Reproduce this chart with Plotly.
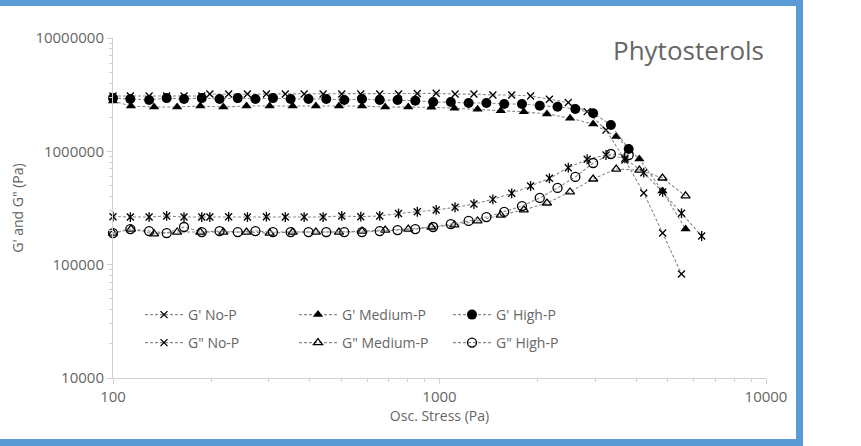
import plotly.graph_objects as go

# Oscillatory stress sweeps (Pa)
stress_high = [100, 113, 129, 146, 165, 187, 212, 241, 273, 309, 350, 397, 450, 511, 579,
               656, 744, 843, 956, 1083, 1228, 1392, 1578, 1789, 2028, 2299, 2606, 2955, 3349, 3797]
stress_med = [100, 113.5, 133.6, 157.2, 185.1, 217.8, 256.4, 301.8, 355.2, 418.1, 492.1, 579.2, 681.7,
              802.4, 944.4, 1111, 1308, 1540, 1812, 2133, 2511, 2955, 3478, 4094, 4818, 5671]
stress_nop_g1 = [100, 113, 129, 146, 165, 187, 198, 226, 258, 295, 337, 385, 440, 502, 574, 656,
                 749, 855, 977, 1116, 1275, 1457, 1664, 1901, 2171, 2480, 2833, 3236, 3697, 4223, 4824, 5510]
stress_nop_g2 = stress_nop_g1 + [6353]

# Storage modulus G' (Pa)
g1_nop = [3.08e6, 3.08e6, 3.08e6, 3.08e6, 3.08e6, 3.08e6,
          3.20e6, 3.20e6, 3.20e6, 3.20e6, 3.20e6, 3.20e6, 3.20e6, 3.20e6, 3.20e6, 3.20e6, 3.20e6,
          3.24e6, 3.25e6, 3.20e6, 3.20e6, 3.14e6, 3.14e6, 3.08e6, 2.88e6, 2.70e6, 2.24e6, 1.54e6,
          8.38e5, 4.29e5, 1.90e5, 8.27e4]
g1_med = [2.78e6, 2.51e6, 2.46e6, 2.46e6, 2.51e6, 2.46e6, 2.51e6, 2.51e6, 2.51e6, 2.51e6, 2.51e6,
          2.51e6, 2.46e6, 2.46e6, 2.45e6, 2.40e6, 2.35e6, 2.28e6, 2.23e6, 2.14e6, 1.96e6, 1.74e6,
          1.35e6, 8.56e5, 4.47e5, 2.06e5]
g1_high = [2.95e6, 2.90e6, 2.84e6, 2.95e6, 2.90e6, 2.95e6, 2.90e6, 2.95e6, 2.90e6, 2.95e6, 2.90e6,
           2.90e6, 2.90e6, 2.84e6, 2.90e6, 2.84e6, 2.84e6, 2.80e6, 2.72e6, 2.72e6, 2.67e6, 2.67e6,
           2.62e6, 2.62e6, 2.53e6, 2.47e6, 2.36e6, 2.17e6, 1.71e6, 1.05e6]

# Loss modulus G" (Pa)
g2_nop = [2.65e5, 2.63e5, 2.63e5, 2.69e5, 2.63e5, 2.63e5,
          2.63e5, 2.65e5, 2.63e5, 2.65e5, 2.63e5, 2.63e5, 2.63e5, 2.69e5, 2.65e5, 2.69e5, 2.83e5,
          2.93e5, 3.04e5, 3.21e5, 3.43e5, 3.77e5, 4.26e5, 4.94e5, 5.78e5, 7.17e5, 8.51e5, 9.28e5,
          8.68e5, 6.48e5, 4.38e5, 2.84e5, 1.79e5]
g2_med = [1.90e5, 2.06e5, 1.87e5, 1.94e5, 1.94e5, 1.94e5, 1.94e5, 1.90e5, 1.94e5, 1.94e5, 1.94e5,
          1.98e5, 2.02e5, 2.06e5, 2.15e5, 2.24e5, 2.43e5, 2.74e5, 3.04e5, 3.50e5, 4.38e5, 5.70e5,
          6.98e5, 6.83e5, 5.82e5, 4.04e5]
g2_high = [1.90e5, 2.06e5, 1.98e5, 1.90e5, 2.15e5, 1.94e5, 1.98e5, 1.94e5, 1.98e5, 1.94e5, 1.94e5,
           1.94e5, 1.94e5, 1.94e5, 1.94e5, 1.98e5, 2.02e5, 2.06e5, 2.15e5, 2.28e5, 2.43e5, 2.63e5,
           2.92e5, 3.29e5, 3.88e5, 4.75e5, 5.94e5, 7.89e5, 9.47e5, 9.28e5]

x_ticks = [100, 1000, 10000]
y_ticks = [10000, 100000, 1000000, 10000000]

FONT = "Open Sans"
GREY_TEXT = "#666666"
LINE = dict(color="#8a8a8a", width=1.1, dash="3px,2px")

fig = go.Figure()


def add(name, x, y, symbol, size, legend, open_marker=False, show=True):
    marker = dict(symbol=symbol, size=size, color="black",
                  line=dict(color="black", width=1.3 if open_marker else 0))
    if symbol.startswith("x-thin") or symbol.startswith("line"):
        marker["line"] = dict(color="black", width=1.3)
    fig.add_trace(go.Scatter(x=x, y=y, name=name, mode="lines+markers", line=LINE,
                             marker=marker, legend=legend, showlegend=show, cliponaxis=False))


add("G' No-P", stress_nop_g1, g1_nop, "x-thin-open", 7, "legend")
add("G' Medium-P", stress_med, g1_med, "triangle-up", 9, "legend")
add("G' High-P", stress_high, g1_high, "circle", 10, "legend")
add("G\" No-P", stress_nop_g2, g2_nop, "x-thin-open", 7, "legend2")
# vertical bar that turns the G" No-P cross into a star
fig.add_trace(go.Scatter(x=stress_nop_g2, y=g2_nop, mode="markers", showlegend=False,
                         marker=dict(symbol="line-ns-open", size=7, color="black",
                                     line=dict(color="black", width=1.3)),
                         hoverinfo="skip", cliponaxis=False))
add("G\" Medium-P", stress_med, g2_med, "triangle-up-open", 8, "legend2", open_marker=True)
add("G\" High-P", stress_high, g2_high, "circle-open", 9, "legend2", open_marker=True)

# plot area in pixels
L, R, T, B = 113, 95, 38, 68
W, H = 861, 446
pw, ph = W - L - R, H - T - B


def px(xp):
    return (xp - L) / pw


def py(yp):
    return (H - B - yp) / ph


blue = "#5b9bd5"
shapes = [
    dict(type="rect", xref="paper", yref="paper", x0=px(-5), x1=px(803), y0=py(-5), y1=py(6),
         fillcolor=blue, line=dict(width=0)),
    dict(type="rect", xref="paper", yref="paper", x0=px(796), x1=px(803), y0=py(450), y1=py(-5),
         fillcolor=blue, line=dict(width=0)),
    dict(type="rect", xref="paper", yref="paper", x0=px(-5), x1=px(803), y0=py(450), y1=py(439),
         fillcolor=blue, line=dict(width=0)),
]

axis_common = dict(
    type="log", showgrid=False, zeroline=False, showline=True, linecolor="#d0d0d0", linewidth=1,
    ticks="outside", ticklen=5, tickcolor="#d0d0d0",
    tickfont=dict(family=FONT, size=15, color=GREY_TEXT),
    minor=dict(ticks="outside", ticklen=3, tickcolor="#d0d0d0", dtick="D1", showgrid=False),
)

legend_common = dict(orientation="h", xanchor="left", yanchor="middle", bgcolor="rgba(0,0,0,0)",
                     font=dict(family=FONT, size=14, color=GREY_TEXT),
                     entrywidth=101, entrywidthmode="pixels", itemwidth=38, tracegroupgap=0)

fig.update_layout(
    width=W, height=H, margin=dict(l=L, r=R, t=T, b=B),
    paper_bgcolor="white", plot_bgcolor="white",
    showlegend=True,
    xaxis=dict(axis_common, range=[2, 4], tickvals=x_ticks, ticktext=[str(v) for v in x_ticks],
               title=dict(text="Osc. Stress (Pa)", font=dict(family=FONT, size=14, color=GREY_TEXT),
                          standoff=4)),
    yaxis=dict(axis_common, range=[4, 7], tickvals=y_ticks, ticktext=[str(v) for v in y_ticks],
               title=dict(text="G' and G\" (Pa)", font=dict(family=FONT, size=14, color=GREY_TEXT),
                          standoff=8)),
    legend=dict(legend_common, x=px(140), y=py(315)),
    legend2=dict(legend_common, x=px(140), y=py(343)),
    shapes=shapes,
    annotations=[dict(text="Phytosterols", xref="paper", yref="paper", x=px(766), y=py(50),
                      xanchor="right", yanchor="middle", showarrow=False,
                      font=dict(family=FONT, size=26, color=GREY_TEXT))],
)

fig.write_html("out.html")
